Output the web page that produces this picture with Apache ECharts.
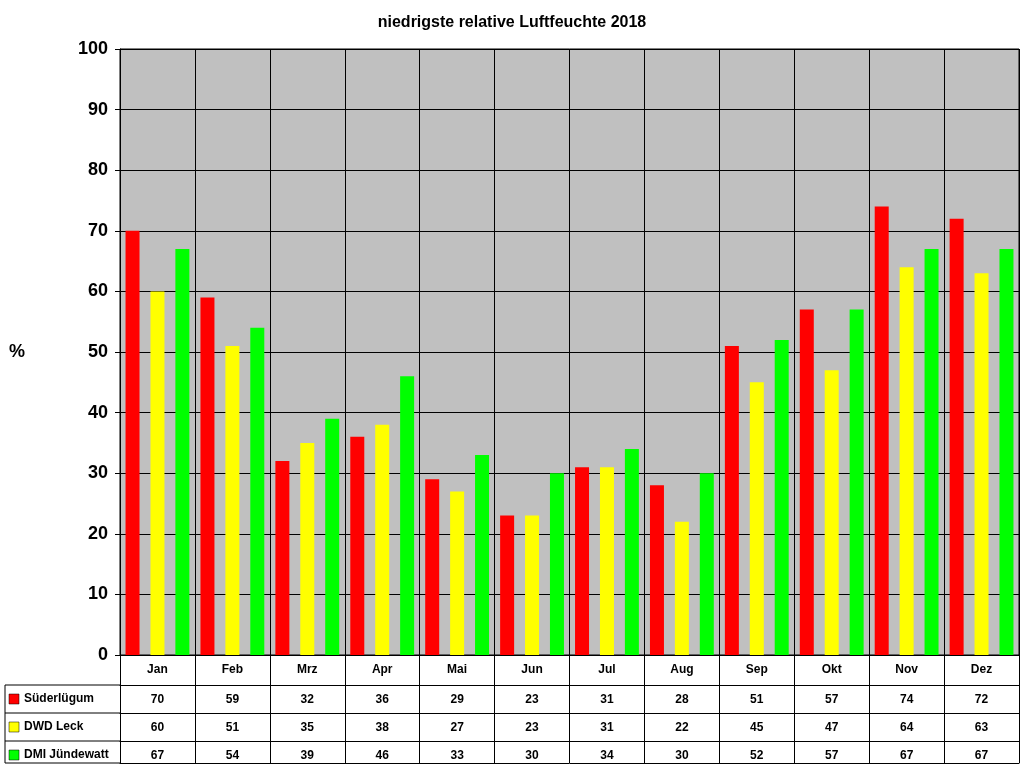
<!DOCTYPE html><html><head><meta charset="utf-8"><script src="https://cdn.jsdelivr.net/npm/echarts@6/dist/echarts.min.js"></script></head><body style="margin:0"><div id="c" style="width:1024px;height:768px"></div><script>
const months=['Jan','Feb','Mrz','Apr','Mai','Jun','Jul','Aug','Sep','Okt','Nov','Dez'];
const names=['Süderlügum','DWD Leck','DMI Jündewatt'];
const colors=['#ff0000','#ffff00','#00ff00'];
const suder=[70,59,32,36,29,23,31,28,51,57,74,72];
const leck=[60,51,35,38,27,23,31,22,45,47,64,63];
const dmi=[67,54,39,46,33,30,34,30,52,57,67,67];
const yTicks={min:0,max:100,interval:10};
const all=[suder,leck,dmi];
const F='Arial, Liberation Sans, sans-serif';
const c=echarts.init(document.getElementById('c'));
const tableAxes=all.map((d,i)=>({type:'category',data:d.map(String),gridIndex:0,position:'bottom',offset:30+28*i,
 axisLine:{show:true,lineStyle:{color:'#000'}},axisTick:{show:true,interval:0,length:i==2?22:28,lineStyle:{color:'#000'}},
 axisLabel:{interval:0,margin:9,fontFamily:F,fontWeight:'bold',fontSize:12,color:'#000'}}));
tableAxes.push({type:'category',data:months,position:'bottom',offset:108,axisLine:{show:true,lineStyle:{color:'#000'}},axisTick:{show:false},axisLabel:{show:false}});
const g=[];
[30,58,86,108].forEach(o=>g.push({type:'line',shape:{x1:5,y1:655+o,x2:120,y2:655+o},style:{stroke:'#000',lineWidth:1}}));
g.push({type:'line',shape:{x1:5,y1:685,x2:5,y2:763},style:{stroke:'#000',lineWidth:1}});
names.forEach((n,i)=>{g.push({type:'rect',shape:{x:9,y:694+28*i,width:10,height:10},style:{fill:colors[i],stroke:'#000',lineWidth:0.5}});
 g.push({type:'text',x:24,y:699+28*i,style:{text:n,fontFamily:F,fontWeight:'bold',fontSize:12,fill:'#000',verticalAlign:'middle'}});});
g.push({type:'text',x:9,y:352,style:{text:'%',fontFamily:F,fontWeight:'bold',fontSize:18,fill:'#000',verticalAlign:'middle'}});
c.setOption({animation:false,backgroundColor:'#fff',
 title:{text:'niedrigste relative Luftfeuchte 2018',left:'center',top:10,textStyle:{fontFamily:F,fontWeight:'bold',fontSize:16,color:'#000'}},
 grid:{left:120,right:5,top:49,bottom:113,show:true,backgroundColor:'#c0c0c0',borderColor:'#000',borderWidth:1},
 xAxis:[{type:'category',data:months,axisLine:{lineStyle:{color:'#000'}},axisTick:{show:true,interval:0,length:30,lineStyle:{color:'#000'}},
  splitLine:{show:true,interval:0,lineStyle:{color:'#000'}},axisLabel:{interval:0,margin:9,fontFamily:F,fontWeight:'bold',fontSize:12,color:'#000'}},...tableAxes],
 yAxis:{type:'value',...yTicks,axisLine:{show:true,lineStyle:{color:'#000'}},axisTick:{show:true,length:5,lineStyle:{color:'#000'}},
  splitLine:{lineStyle:{color:'#000'}},axisLabel:{fontFamily:F,fontWeight:'bold',fontSize:18,color:'#000',margin:12}},
 graphic:g,
 series:all.map((d,i)=>({type:'bar',name:names[i],data:d,barWidth:14,barGap:'78%',itemStyle:{color:colors[i]}}))});
</script></body></html>
